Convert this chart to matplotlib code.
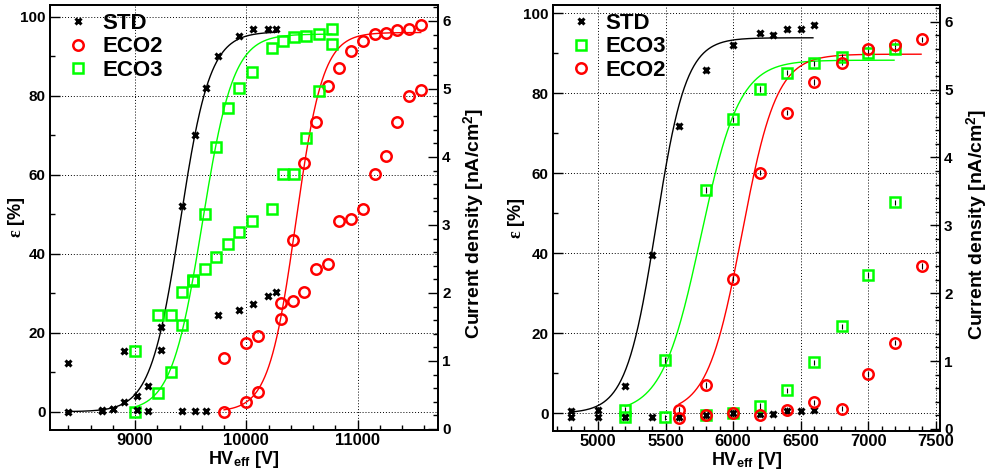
import numpy as np
import matplotlib
matplotlib.use('Agg')
import matplotlib.pyplot as plt
from matplotlib.ticker import MultipleLocator

plt.rcParams['font.family'] = ['Liberation Sans', 'DejaVu Sans']
plt.rcParams['font.weight'] = 'bold'
plt.rcParams['mathtext.fontset'] = 'custom'
plt.rcParams['mathtext.rm'] = 'Liberation Serif'
plt.rcParams['mathtext.it'] = 'Liberation Serif'
plt.rcParams['mathtext.bf'] = 'Liberation Sans:bold'

# ---- left panel data (HV_eff [V], efficiency [%], current density [nA/cm2])
hv_std_l = [8400, 8700, 8800, 8900, 9015, 9120, 9231, 9420, 9539, 9638, 9743, 9937, 10063, 10198, 10267]
eff_std_l = [0.0, 0.35, 0.6, 2.4, 4.1, 6.6, 21.4, 52.0, 70.0, 82.0, 90.0, 95.0, 97.0, 97.0, 97.0]
cur_std_l = [0.97, 0.27, 0.29, 1.15, 0.28, 0.27, 1.16, 0.27, 0.27, 0.27, 1.67, 1.75, 1.84, 1.96, 2.01]

hv_eco2_l = [9800, 9997, 10102, 10312, 10422, 10521, 10625, 10733, 10832, 10941, 11046, 11156, 11256, 11356, 11465, 11567]
eff_eco2_l = [0.0, 2.5, 4.9, 23.4, 43.5, 62.9, 73.3, 82.5, 86.9, 91.4, 93.8, 95.6, 95.8, 96.6, 96.8, 98.0]
cur_eco2_l = [1.05, 1.27, 1.37, 1.85, 1.88, 2.01, 2.36, 2.43, 3.06, 3.09, 3.23, 3.75, 4.01, 4.51, 4.90, 4.99]

hv_eco3_l = [9000, 9207, 9320, 9420, 9518, 9629, 9728, 9833, 9937, 10048, 10234, 10330, 10429, 10536, 10650, 10767]
eff_eco3_l = [0.0, 4.65, 10.0, 22.0, 33.4, 50.0, 67.0, 77.0, 81.9, 86.0, 92.0, 93.9, 94.9, 95.2, 95.5, 97.0]
cur_eco3_l = [1.15, 1.67, 1.67, 2.01, 2.18, 2.36, 2.53, 2.72, 2.89, 3.06, 3.23, 3.75, 3.75, 4.28, 4.97, 5.66]

# ---- right panel data
hv_std_r = [4803, 5000, 5197, 5399, 5596, 5798, 5998, 6199, 6298, 6397, 6500, 6601]
eff_std_r = [0.65, 0.8, 6.9, 39.6, 71.9, 85.8, 92.1, 95.0, 94.7, 96.0, 96.0, 97.2]
cur_std_r = [0.17, 0.17, 0.17, 0.17, 0.17, 0.20, 0.23, 0.22, 0.22, 0.26, 0.27, 0.28]

hv_eco3_r = [5197, 5497, 5798, 5998, 6199, 6397, 6601, 6803, 6999, 7197]
eff_eco3_r = [0.8, 13.3, 55.8, 73.5, 81.1, 85.2, 87.5, 89.2, 90.0, 91.0]
cur_eco3_r = [0.17, 0.17, 0.20, 0.24, 0.34, 0.57, 0.98, 1.51, 2.27, 3.34]

hv_eco2_r = [5598, 5798, 5998, 6199, 6397, 6601, 6803, 6999, 7197, 7399]
eff_eco2_r = [0.8, 7.1, 33.7, 60.2, 75.2, 82.9, 87.7, 91.2, 92.2, 93.5]
cur_eco2_r = [0.16, 0.20, 0.23, 0.21, 0.28, 0.39, 0.30, 0.81, 1.27, 2.40]

# sigmoid fit parameters: plateau, slope, HV50, first HV, last HV
fit_std_l = (96.2, 0.0075, 9406, 8400, 10270)
fit_eco3_l = (95.6, 0.0072, 9605, 9000, 10767)
fit_eco2_l = (96.0, 0.0082, 10445, 9800, 11567)
fit_std_r = (93.9, 0.009, 5430, 4800, 6590)
fit_eco3_r = (88.3, 0.007, 5760, 5200, 7190)
fit_eco2_r = (89.8, 0.0078, 6065, 5600, 7390)

GREEN = '#00ff00'
styles = {
    'STD': dict(marker='x', color='k', ms=5, mew=2.2, ls='none'),
    'ECO2': dict(marker='o', mfc='none', mec='r', ms=7.5, mew=1.8, ls='none'),
    'ECO3': dict(marker='s', mfc='none', mec=GREEN, ms=7, mew=1.8, ls='none'),
}
fit_colors = {'STD': 'k', 'ECO2': 'r', 'ECO3': GREEN}


def sigmoid_curve(par):
    emax, lam, hv50, h0, h1 = par
    hv = np.linspace(h0, h1, 300)
    return hv, emax / (1 + np.exp(-lam * (hv - hv50)))


def panel(ax, series, xlim, ylim, rlim, xmaj, xmin, errbars, lab_l, lab_r):
    axr = ax.twinx()
    handles = []
    for name, hv, eff, cur, fit in series:
        fx, fy = sigmoid_curve(fit)
        ax.plot(fx, fy, color=fit_colors[name], lw=1.0, zorder=2)
        if errbars:
            ax.errorbar(hv, eff, yerr=0.7, fmt='none', ecolor='k', elinewidth=0.8, zorder=3)
            axr.errorbar(hv, cur, yerr=0.04, fmt='none', ecolor='k', elinewidth=0.8, zorder=3)
        h, = ax.plot(hv, eff, label=name, zorder=4, **styles[name])
        axr.plot(hv, cur, zorder=4, **styles[name])
        handles.append(h)

    ax.set_xlim(*xlim)
    ax.set_ylim(*ylim)
    axr.set_ylim(*rlim)
    ax.xaxis.set_major_locator(MultipleLocator(xmaj))
    ax.xaxis.set_minor_locator(MultipleLocator(xmin))
    ax.yaxis.set_major_locator(MultipleLocator(20))
    ax.yaxis.set_minor_locator(MultipleLocator(10))
    axr.yaxis.set_major_locator(MultipleLocator(1))
    axr.yaxis.set_minor_locator(MultipleLocator(0.2))
    ax.tick_params(which='both', direction='in', top=False, right=False, width=1)
    ax.tick_params(axis='y', which='major', length=7.5, labelsize=11, pad=3)
    ax.tick_params(axis='x', which='major', length=7.5, labelsize=12, pad=2.5)
    ax.tick_params(which='minor', length=3.8)
    axr.tick_params(which='both', direction='in', width=1)
    axr.tick_params(which='major', length=7, labelsize=11, pad=3)
    axr.tick_params(which='minor', length=3.5)
    for lab in ax.get_xticklabels() + ax.get_yticklabels() + axr.get_yticklabels():
        lab.set_fontweight('bold')
    for a in (ax, axr):
        for s in a.spines.values():
            s.set_linewidth(1.3)
    ax.grid(True, which='major', color='k', linestyle=(0, (1, 2)), lw=0.7)

    ax.set_xlabel(r'HV$_{\mathbf{eff}}$ [V]', fontsize=13, fontweight='bold')
    ax.set_ylabel(r'$\varepsilon$ [%]', fontsize=13, fontweight='bold')
    axr.set_ylabel(r'Current density [nA/cm$^{\mathbf{2}}$]', fontsize=14, fontweight='bold')
    ax.xaxis.set_label_coords(0.5, -0.044)
    ax.yaxis.set_label_coords(lab_l, 0.5)
    axr.yaxis.set_label_coords(lab_r, 0.486)

    ax.legend(handles=handles, loc='upper left', bbox_to_anchor=(0.044, 0.981),
              frameon=False, prop={'size': 16, 'weight': 'bold'},
              handlelength=1.0, handletextpad=0.6, labelspacing=0.1,
              borderpad=0, borderaxespad=0)
    return axr


fig = plt.figure(figsize=(9.89, 4.70), dpi=100)
ax1 = fig.add_axes([50 / 989, 40 / 470, 388 / 989, 425 / 470])
ax2 = fig.add_axes([553 / 989, 39 / 470, 387 / 989, 426 / 470])

panel(ax1, [('STD', hv_std_l, eff_std_l, cur_std_l, fit_std_l),
            ('ECO2', hv_eco2_l, eff_eco2_l, cur_eco2_l, fit_eco2_l),
            ('ECO3', hv_eco3_l, eff_eco3_l, cur_eco3_l, fit_eco3_l)],
      (8236, 11722), (-4.63, 102.96), (-0.015, 6.235), 1000, 200, False,
      -0.059, 1.062)

panel(ax2, [('STD', hv_std_r, eff_std_r, cur_std_r, fit_std_r),
            ('ECO3', hv_eco3_r, eff_eco3_r, cur_eco3_r, fit_eco3_r),
            ('ECO2', hv_eco2_r, eff_eco2_r, cur_eco2_r, fit_eco2_r)],
      (4667, 7530), (-4.43, 102.1), (-0.03, 6.245), 500, 100, True,
      -0.067, 1.065)

fig.savefig('out.png', dpi=100)
plt.close(fig)
